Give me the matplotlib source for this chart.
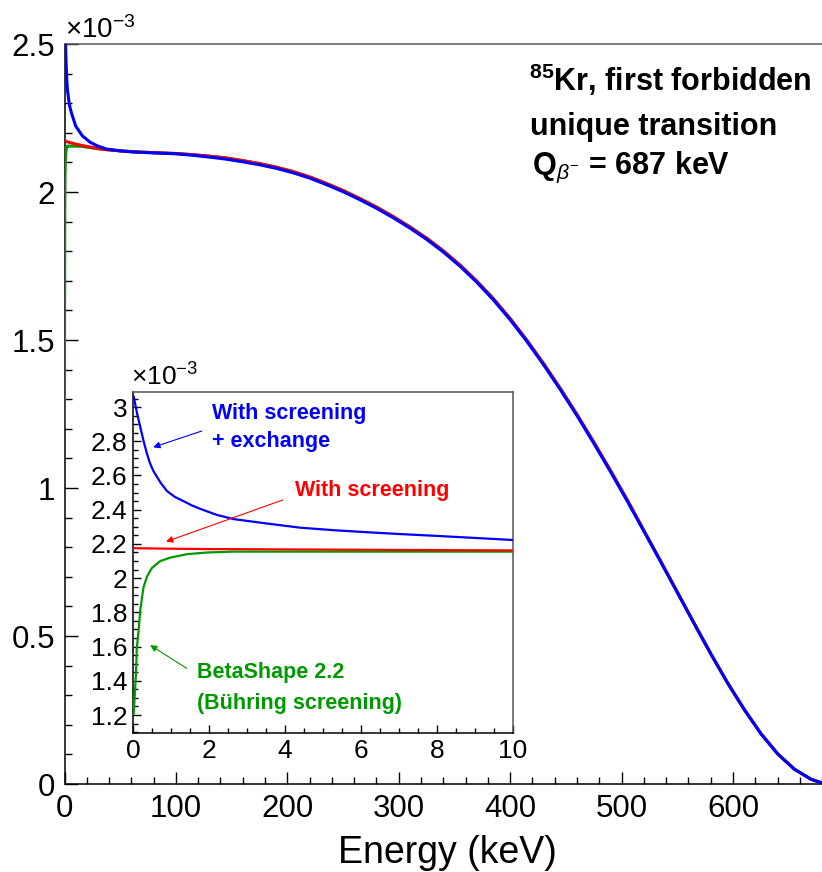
import matplotlib

matplotlib.use("Agg")
import matplotlib.pyplot as plt
import numpy as np
from matplotlib.ticker import MultipleLocator, FuncFormatter

plt.rcParams["font.family"] = ["Liberation Sans", "DejaVu Sans"]
plt.rcParams["mathtext.fontset"] = "custom"
plt.rcParams["mathtext.rm"] = "Liberation Sans"
plt.rcParams["mathtext.it"] = "Liberation Sans:italic"
plt.rcParams["mathtext.bf"] = "Liberation Sans:bold"

BLUE = "#0000ff"
RED = "#ff0000"
GREEN = "#009a00"

# spectra in units of 1e-3 per keV
# low-energy region (0-10 keV)
E_LOW_BLUE = [0.02, 0.1, 0.19, 0.28, 0.37, 0.45, 0.54, 0.72, 0.89, 1.1, 1.33, 1.55,
              1.77, 2.2, 2.65, 3.5, 4.4, 5.3, 6.2, 7.0, 7.9, 9.0, 10.0]
BLUE_LOW = [3.06, 2.97, 2.885, 2.80, 2.725, 2.67, 2.625, 2.56, 2.51, 2.475, 2.45, 2.425,
            2.405, 2.37, 2.345, 2.32, 2.295, 2.28, 2.268, 2.258, 2.248, 2.235, 2.223]

E_LOW_RED = [0.0, 0.05, 1.0, 2.0, 4.0, 6.0, 8.0, 10.0]
RED_LOW = [2.178, 2.175, 2.172, 2.170, 2.168, 2.166, 2.164, 2.162]

E_LOW_GREEN = [0.02, 0.04, 0.08, 0.1, 0.15, 0.19, 0.24, 0.28, 0.37, 0.5, 0.72, 0.98,
               1.42, 1.95, 2.65, 10.0]
GREEN_LOW = [1.21, 1.29, 1.45, 1.59, 1.70, 1.81, 1.89, 1.95, 2.01, 2.06, 2.10, 2.12,
             2.14, 2.15, 2.155, 2.155]

# full spectrum above 10 keV
E_HIGH = [16, 23, 30, 38, 50, 62, 80, 100, 115, 130, 145, 160, 175, 190, 205, 220, 235,
          250, 265, 280, 295, 310, 325, 340, 355, 370, 385, 400, 415, 430, 445, 460, 475,
          490, 505, 520, 535, 550, 565, 580, 595, 610, 625, 640, 655, 670, 680, 687]
BLUE_HIGH = [2.19, 2.168, 2.155, 2.145, 2.139, 2.135, 2.132, 2.129, 2.124, 2.118, 2.111,
             2.102, 2.092, 2.080, 2.065, 2.047, 2.025, 2.001, 1.974, 1.945, 1.913, 1.878,
             1.840, 1.797, 1.749, 1.695, 1.635, 1.568, 1.495, 1.416, 1.332, 1.244, 1.151,
             1.055, 0.956, 0.854, 0.751, 0.647, 0.543, 0.440, 0.342, 0.252, 0.170, 0.102,
             0.050, 0.016, 0.003, 0.0]
RED_HIGH = [2.157, 2.152, 2.147, 2.143, 2.139, 2.136, 2.133, 2.130, 2.126, 2.121, 2.115,
            2.106, 2.096, 2.084, 2.069, 2.051, 2.029, 2.005, 1.978, 1.949, 1.917, 1.882,
            1.844, 1.801, 1.753, 1.699, 1.639, 1.572, 1.499, 1.420, 1.336, 1.248, 1.155,
            1.059, 0.960, 0.856, 0.753, 0.648, 0.543, 0.440, 0.342, 0.252, 0.170, 0.102,
            0.050, 0.016, 0.003, 0.0]
GREEN_HIGH = [2.154, 2.150, 2.146, 2.143, 2.139, 2.136, 2.133, 2.130, 2.126, 2.121, 2.115,
              2.106, 2.096, 2.084, 2.069, 2.051, 2.029, 2.005, 1.978, 1.949, 1.917, 1.882,
              1.844, 1.801, 1.753, 1.699, 1.639, 1.572, 1.499, 1.420, 1.336, 1.248, 1.155,
              1.059, 0.960, 0.856, 0.753, 0.648, 0.543, 0.440, 0.342, 0.252, 0.170, 0.102,
              0.050, 0.016, 0.003, 0.0]

W, H = 822, 872


def fx(px):
    return px / W


def fy(py):
    return 1 - py / H


def style_axes(ax, xmaj, xmin, ymaj, ymin, size, major_len, minor_len, pad):
    ax.xaxis.set_major_locator(MultipleLocator(xmaj))
    ax.xaxis.set_minor_locator(MultipleLocator(xmin))
    ax.yaxis.set_major_locator(MultipleLocator(ymaj))
    ax.yaxis.set_minor_locator(MultipleLocator(ymin))
    ax.yaxis.set_major_formatter(FuncFormatter(lambda v, p: f"{v:g}"))
    ax.tick_params(which="both", direction="in", top=False, right=False,
                   labelsize=size, width=1.0, pad=pad)
    ax.tick_params(which="major", length=major_len)
    ax.tick_params(which="minor", length=minor_len)
    for side in ("left", "bottom"):
        ax.spines[side].set_color("black")
        ax.spines[side].set_linewidth(1.1)
    for side in ("top", "right"):
        ax.spines[side].set_color("#555555")
        ax.spines[side].set_linewidth(1.1)


fig = plt.figure(figsize=(W / 100, H / 100), dpi=100)

# main spectrum; curves sit above the frame like ROOT draws them
ax = fig.add_axes([fx(64.5), fy(784), fx(830) - fx(64.5), fy(44) - fy(784)])
ax.plot(np.concatenate([E_LOW_GREEN, E_HIGH]), np.concatenate([GREEN_LOW, GREEN_HIGH]),
        color=GREEN, lw=2.2, zorder=3)
ax.plot(np.concatenate([E_LOW_RED, E_HIGH]), np.concatenate([RED_LOW, RED_HIGH]),
        color=RED, lw=2.2, zorder=3)
ax.plot(np.concatenate([E_LOW_BLUE, E_HIGH]), np.concatenate([BLUE_LOW, BLUE_HIGH]),
        color=BLUE, lw=2.2, zorder=3)
ax.set_xlim(0, 687)
ax.set_ylim(0, 2.5)
style_axes(ax, 100, 20, 0.5, 0.1, 22.5, 9, 5, 7)
ax.set_xlabel("Energy (keV)", fontsize=27, labelpad=8)
fig.text(fx(65), fy(38), r"×10$^{-3}$", fontsize=20, ha="left", va="baseline")

fig.text(fx(529), fy(91), r"$^{\mathbf{85}}$Kr, first forbidden", fontsize=22,
         fontweight="bold", ha="left", va="baseline")
fig.text(fx(530), fy(135), "unique transition", fontsize=22,
         fontweight="bold", ha="left", va="baseline")
fig.text(fx(532), fy(174), r"Q$_{\beta^{-}}$ = 687 keV", fontsize=22,
         fontweight="bold", ha="left", va="baseline")

# zoom on the first 10 keV
ins = fig.add_axes([fx(133), fy(733), fx(513) - fx(133), fy(392) - fy(733)])
ins.plot(E_LOW_GREEN, GREEN_LOW, color=GREEN, lw=1.6, zorder=3)
ins.plot(E_LOW_RED, RED_LOW, color=RED, lw=1.6, zorder=3)
ins.plot(E_LOW_BLUE, BLUE_LOW, color=BLUE, lw=1.6, zorder=3)
ins.set_xlim(0, 10)
ins.set_ylim(1.095, 3.088)
style_axes(ins, 2, 0.5, 0.2, 0.05, 19, 6, 3.5, 4)
fig.text(fx(131), fy(386), r"×10$^{-3}$", fontsize=19, ha="left", va="baseline")

ins.text(2.07, 2.965, "With screening", color=BLUE, fontsize=15.5, fontweight="bold",
         ha="left", va="center")
ins.text(2.07, 2.798, "+ exchange", color=BLUE, fontsize=15.5, fontweight="bold",
         ha="left", va="center")
ins.text(4.26, 2.515, "With screening", color=RED, fontsize=15.5, fontweight="bold",
         ha="left", va="center")
ins.text(1.69, 1.446, "BetaShape 2.2", color=GREEN, fontsize=15.5, fontweight="bold",
         ha="left", va="center")
ins.text(1.68, 1.270, "(Bühring screening)", color=GREEN, fontsize=15.5,
         fontweight="bold", ha="left", va="center")

arrow = dict(arrowstyle="-|>", lw=0.8, mutation_scale=10, shrinkA=0, shrinkB=0)
ins.annotate("", xy=(0.53, 2.765), xytext=(1.81, 2.860),
             arrowprops=dict(arrow, color=BLUE))
ins.annotate("", xy=(0.87, 2.213), xytext=(3.94, 2.457),
             arrowprops=dict(arrow, color=RED))
ins.annotate("", xy=(0.45, 1.609), xytext=(1.41, 1.473),
             arrowprops=dict(arrow, color=GREEN))

fig.savefig("out.png", dpi=100)
